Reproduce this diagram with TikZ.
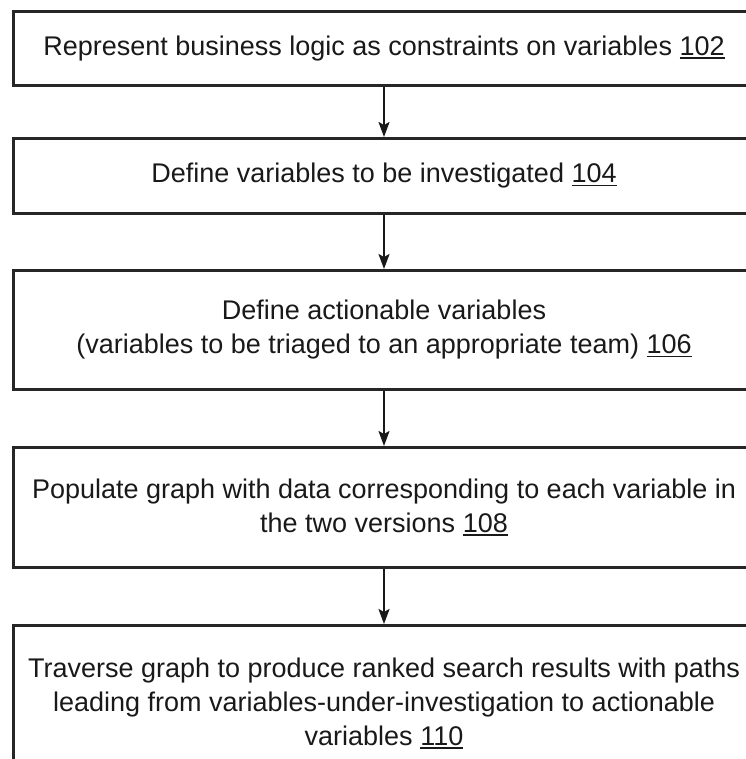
\documentclass[tikz,border=0pt]{standalone}
\usepackage{fontspec}
\setmainfont{Liberation Sans}
\usetikzlibrary{arrows.meta}
\newcommand\refnum[1]{\setbox0\hbox{#1}\rlap{\rule[-3.5pt]{\wd0}{1.8pt}}\box0}
\tikzset{
  stepbox/.style={draw=black!85, line width=3pt, minimum width=742pt, inner sep=0pt,
    anchor=north, align=center, font=\fontsize{27}{34}\selectfont, text=black!90},
  arr/.style={draw=black!90, line width=2pt, -{Stealth[length=15pt,width=11pt,inset=3pt]}}
}
\begin{document}
\begin{tikzpicture}[x=1pt,y=-1pt]
\useasboundingbox (0,0) rectangle (745,759);
\node[stepbox, minimum height=74pt] (b1) at (384,10) {Represent business logic as constraints on variables \refnum{102}};
\node[stepbox, minimum height=75pt] (b2) at (384,137) {Define variables to be investigated \refnum{104}};
\node[stepbox, minimum height=119pt] (b3) at (384,269) {Define actionable variables\\(variables to be triaged to an appropriate team) \refnum{106}};
\node[stepbox, minimum height=120pt] (b4) at (384,446) {Populate graph with data corresponding to each variable in\\the two versions \refnum{108}};
\node[stepbox, minimum height=156pt] (b5) at (384,624) {Traverse graph to produce ranked search results with paths\\leading from variables-under-investigation to actionable\\variables \refnum{110}};
\draw[arr] (b1.south) -- (b2.north);
\draw[arr] (b2.south) -- (b3.north);
\draw[arr] (b3.south) -- (b4.north);
\draw[arr] (b4.south) -- (b5.north);
\end{tikzpicture}
\end{document}
